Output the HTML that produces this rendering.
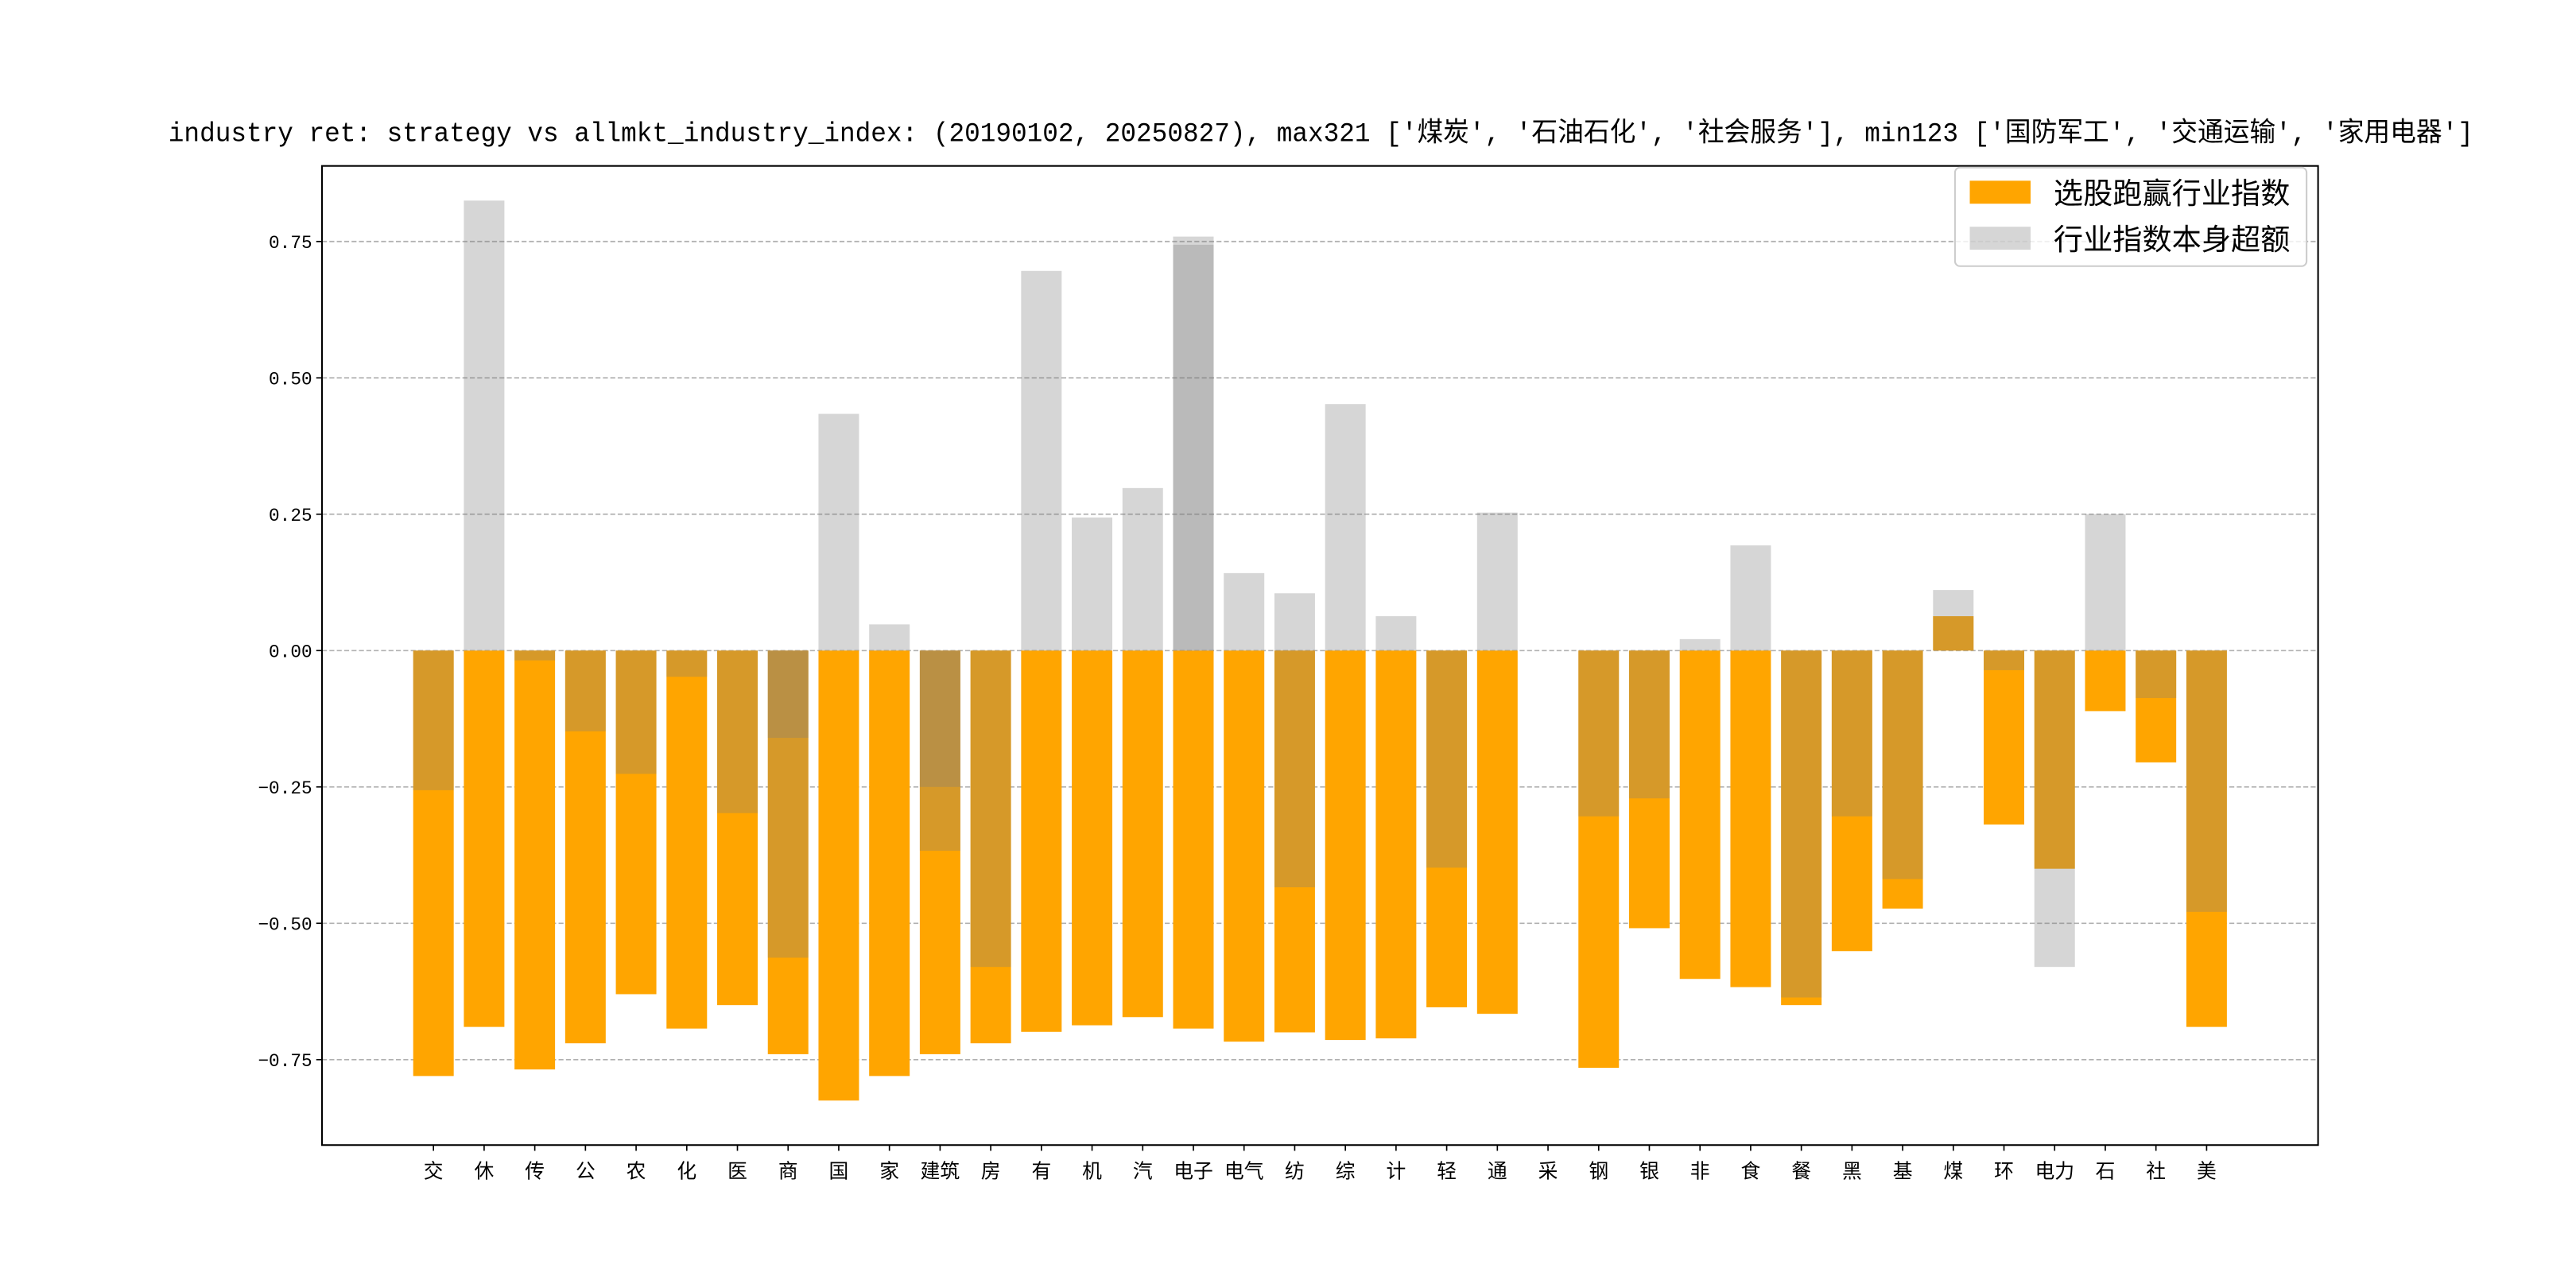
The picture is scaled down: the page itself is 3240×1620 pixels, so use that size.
<!DOCTYPE html>
<html><head><meta charset="utf-8"><style>
html,body{margin:0;padding:0;background:#fff}
svg{display:block}
text{font-family:"Liberation Sans","Noto Sans CJK SC",sans-serif}
</style></head><body>
<svg id="chart" width="3240" height="1620" viewBox="0 0 1568 784" xmlns="http://www.w3.org/2000/svg">
<rect width="1568" height="784" fill="#fff"/>
<text x="804" y="86" text-anchor="middle" font-size="16.5" textLength="1403" lengthAdjust="spacingAndGlyphs" style="font-family:'Liberation Mono','Noto Sans CJK SC',monospace">industry ret: strategy vs allmkt_industry_index: (20190102, 20250827), max321 ['煤炭', '石油石化', '社会服务'], min123 ['国防军工', '交通运输', '家用电器']</text>
<g id="grid"></g>
<g id="bars"></g>
<rect x="196" y="101" width="1215" height="596" fill="none" stroke="#000" stroke-width="1"/>
<g id="axes"></g>
<g>
<rect x="1190" y="102" width="214" height="60" rx="3" fill="#fff" fill-opacity="0.8" stroke="#ccc" stroke-width="1"/>
<rect x="1199" y="110" width="37" height="14" fill="#FFA500"/>
<text x="1250" y="124" font-size="18">选股跑赢行业指数</text>
<rect x="1199" y="138" width="37" height="14" fill="#808080" fill-opacity="0.32"/>
<text x="1250" y="152" font-size="18">行业指数本身超额</text>
</g>
</svg>
<script>
const categories=["交","休","传","公","农","化","医","商","国","家","建筑","房","有","机","汽","电子","电气","纺","综","计","轻","通","采","钢","银","非","食","餐","黑","基","煤","环","电力","石","社","美"];
const strategyValues=[-0.78,-0.69,-0.768,-0.72,-0.63,-0.693,-0.65,-0.74,-0.825,-0.78,-0.74,-0.72,-0.699,-0.687,-0.672,-0.693,-0.717,-0.70,-0.714,-0.711,-0.654,-0.666,0,-0.765,-0.509,-0.602,-0.617,-0.65,-0.551,-0.473,0.063,-0.319,-0.40,-0.111,-0.205,-0.69];
const indexValues=[-0.256,0.825,-0.018,-0.148,-0.226,-0.048,-0.298,-0.563,0.434,0.048,-0.367,-0.58,0.696,0.244,0.298,0.759,0.142,0.105,0.452,0.063,-0.398,0.253,0,-0.304,-0.271,0.021,0.193,-0.636,-0.304,-0.419,0.111,-0.036,-0.58,0.25,-0.087,-0.479];
const indexValues2=[0,0,0,0,0,0,0,-0.16,0,0,-0.25,0,0,0,0,0.744,0,-0.434,0,0,0,0,0,0,0,0,0,0,0,0,0,0,0,0,0,0];
const yTicks=[-0.75,-0.5,-0.25,0,0.25,0.5,0.75];
const yTickLabels=["−0.75","−0.50","−0.25","0.00","0.25","0.50","0.75"];

const NS="http://www.w3.org/2000/svg";
const L=196,R=1411,T=101,B=697;
const xMin=-2.2,xMax=categories.length-1+2.2;
const y0=396,pxPerUnit=332;
function xs(i){return L+(i-xMin)/(xMax-xMin)*(R-L);}
function ys(v){return y0-v*pxPerUnit;}
const bw=0.8*(R-L)/(xMax-xMin);
function mk(tag,attrs,parent){const e=document.createElementNS(NS,tag);for(const k in attrs)e.setAttribute(k,attrs[k]);parent.appendChild(e);return e;}
const grid=document.getElementById('grid'),bars=document.getElementById('bars'),axes=document.getElementById('axes');
yTicks.forEach((v,i)=>{
  const g=mk('line',{x1:L,x2:R,y1:ys(v),y2:ys(v),stroke:'#b0b0b0','stroke-width':0.8,'stroke-dasharray':'3,1.5'},grid);
  
  
  const t=mk('line',{x1:L-3.5,x2:L,y1:ys(v),y2:ys(v),stroke:'#000','stroke-width':0.8},axes);
  
  
  const lb=mk('text',{x:L-6,y:ys(v)+4,'text-anchor':'end','font-size':11,style:"font-family:'Liberation Mono',monospace"},axes);
  lb.textContent=yTickLabels[i];
  
  
});
function bar(i,v,fill,op,name){
  const y=Math.min(ys(0),ys(v)),h=Math.abs(ys(v)-ys(0));
  const r=mk('rect',{x:xs(i)-bw/2,y:y,width:bw,height:h,fill:fill,'fill-opacity':op},bars);
  
  
}
categories.forEach((c,i)=>{
  bar(i,strategyValues[i],'#FFA500',1,'bar-strategy');
  bar(i,indexValues[i],'#808080',0.32,'bar-index');
  if(indexValues2[i]!==0) bar(i,indexValues2[i],'#808080',0.32,'bar-index-extra');
  const t=mk('line',{x1:xs(i),x2:xs(i),y1:B,y2:B+3.5,stroke:'#000','stroke-width':0.8},axes);
  
  
  const lb=mk('text',{x:xs(i),y:B+20,'text-anchor':'middle','font-size':12},axes);
  lb.textContent=c;
  
  
});
</script>
</body></html>
